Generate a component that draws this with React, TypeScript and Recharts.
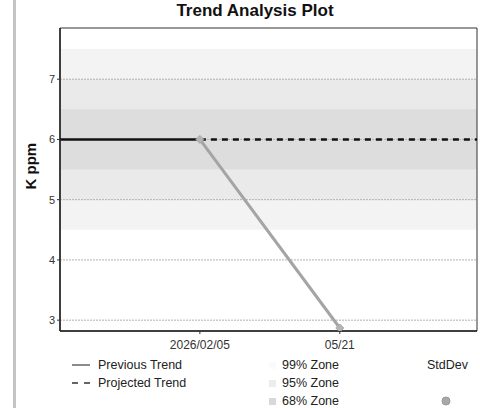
import React from "react";
import {
  ComposedChart,
  Line,
  XAxis,
  YAxis,
  ReferenceArea,
  ReferenceLine,
} from "recharts";

// x = days relative to 2026/02/05
const previousX = [-105, 0];
const previousY = [6, 6];
const projectedX = [0, 208];
const projectedY = [6, 6];
const trendX = [0, 105];
const trendY = [6, 2.87];
const xTicks = [0, 105];
const xTickLabels = ["2026/02/05", "05/21"];
const yTicks = [3, 4, 5, 6, 7];
const zoneMean = 6;
const zoneSd = 0.5;

const zip = (xs: number[], ys: number[]) => xs.map((x, i) => ({ x, y: ys[i] }));
const previousData = zip(previousX, previousY);
const projectedData = zip(projectedX, projectedY);
const trendData = zip(trendX, trendY);

const font = "'Liberation Sans', Arial, sans-serif";
const X_DOMAIN: [number, number] = [-105, 208];
const Y_DOMAIN: [number, number] = [2.82, 7.85];

const Diamond = (props: any) => {
  const { cx, cy } = props;
  if (cx == null || cy == null) return null;
  return (
    <path
      d={`M${cx},${cy - 4} L${cx + 4},${cy} L${cx},${cy + 4} L${cx - 4},${cy} Z`}
      fill="#b4b4b4"
      stroke="#a8a8a8"
    />
  );
};

export default function App() {
  return (
    <div
      style={{
        position: "absolute",
        left: 0,
        top: 0,
        width: 480,
        height: 408,
        background: "#fff",
        fontFamily: font,
      }}
    >
      <div
        style={{
          position: "absolute",
          left: 13,
          top: 0,
          width: 3,
          height: 408,
          background: "#c4c4c4",
        }}
      />
      <ComposedChart
        width={480}
        height={408}
        margin={{ top: 28, right: 3, bottom: 47, left: 0 }}
        style={{ position: "absolute", left: 0, top: 0 }}
      >
        <ReferenceArea
          y1={zoneMean - 3 * zoneSd}
          y2={zoneMean + 3 * zoneSd}
          fill="#f3f3f3"
          fillOpacity={1}
          stroke="none"
        />
        <ReferenceArea
          y1={zoneMean - 2 * zoneSd}
          y2={zoneMean + 2 * zoneSd}
          fill="#eaeaea"
          fillOpacity={1}
          stroke="none"
        />
        <ReferenceArea
          y1={zoneMean - zoneSd}
          y2={zoneMean + zoneSd}
          fill="#dddddd"
          fillOpacity={1}
          stroke="none"
        />
        {yTicks.map((t) => (
          <ReferenceLine key={t} y={t} stroke="#b0b0b0" strokeDasharray="2 1" />
        ))}
        <XAxis
          type="number"
          dataKey="x"
          domain={X_DOMAIN}
          ticks={xTicks}
          tickFormatter={(v: number) => xTickLabels[xTicks.indexOf(v)] ?? ""}
          height={30}
          axisLine={{ stroke: "#222", strokeWidth: 1.5 }}
          tickLine={{ stroke: "#333" }}
          tickSize={3}
          tick={{ fill: "#333", fontSize: 12, fontFamily: font, dy: 4 }}
          allowDataOverflow
        />
        <YAxis
          type="number"
          domain={Y_DOMAIN}
          ticks={yTicks}
          width={60}
          axisLine={{ stroke: "#222", strokeWidth: 1.5 }}
          tickLine={{ stroke: "#333" }}
          tickSize={3}
          tick={{ fill: "#333", fontSize: 11, fontFamily: font }}
          allowDataOverflow
          label={{
            value: "K ppm",
            angle: -90,
            position: "insideLeft",
            offset: 31,
            dy: 10,
            style: { fontWeight: "bold", fontSize: 15, fill: "#111", fontFamily: font },
          }}
        />
        <Line
          data={previousData}
          dataKey="y"
          stroke="#111"
          strokeWidth={2.5}
          dot={false}
          isAnimationActive={false}
        />
        <Line
          data={projectedData}
          dataKey="y"
          stroke="#111"
          strokeWidth={2.5}
          strokeDasharray="6 5"
          dot={false}
          isAnimationActive={false}
        />
        <Line
          data={trendData}
          dataKey="y"
          stroke="#a4a4a4"
          strokeWidth={3}
          dot={<Diamond />}
          isAnimationActive={false}
        />
        <ReferenceArea
          x1={X_DOMAIN[0]}
          x2={X_DOMAIN[1]}
          y1={Y_DOMAIN[0]}
          y2={Y_DOMAIN[1]}
          fill="none"
          stroke="#333"
          strokeWidth={1}
        />
      </ComposedChart>
      <div
        style={{
          position: "absolute",
          left: 155,
          width: 200,
          top: 1,
          textAlign: "center",
          fontWeight: "bold",
          fontSize: 17,
          color: "#111",
        }}
      >
        Trend Analysis Plot
      </div>
      {/* legend */}
      <div style={{ position: "absolute", left: 70, top: 356, fontSize: 12.5, color: "#222" }}>
        <div style={{ display: "flex", alignItems: "center", height: 18 }}>
          <svg width={22} height={6}>
            <line x1={2} y1={3} x2={20} y2={3} stroke="#666" strokeWidth={1.5} />
          </svg>
          <span style={{ marginLeft: 6 }}>Previous Trend</span>
        </div>
        <div style={{ display: "flex", alignItems: "center", height: 18 }}>
          <svg width={22} height={6}>
            <line x1={2} y1={3} x2={20} y2={3} stroke="#333" strokeWidth={1.5} strokeDasharray="6 6" />
          </svg>
          <span style={{ marginLeft: 6 }}>Projected Trend</span>
        </div>
      </div>
      <div style={{ position: "absolute", left: 269, top: 356, fontSize: 12.5, color: "#222" }}>
        <div style={{ display: "flex", alignItems: "center", height: 18 }}>
          <span style={{ width: 7, height: 7, background: "#fbfbfb", display: "inline-block" }} />
          <span style={{ marginLeft: 6 }}>99% Zone</span>
        </div>
        <div style={{ display: "flex", alignItems: "center", height: 18 }}>
          <span style={{ width: 7, height: 7, background: "#ececec", display: "inline-block" }} />
          <span style={{ marginLeft: 6 }}>95% Zone</span>
        </div>
        <div style={{ display: "flex", alignItems: "center", height: 18 }}>
          <span style={{ width: 7, height: 7, background: "#d8d8d8", display: "inline-block" }} />
          <span style={{ marginLeft: 6 }}>68% Zone</span>
        </div>
      </div>
      <div style={{ position: "absolute", left: 427, top: 356, fontSize: 12.5, color: "#222" }}>
        <div style={{ height: 18, lineHeight: "18px" }}>StdDev</div>
      </div>
      <svg style={{ position: "absolute", left: 440, top: 395 }} width={12} height={12}>
        <circle cx={6} cy={6} r={4} fill="#a8a8a8" stroke="#999" />
      </svg>
    </div>
  );
}
